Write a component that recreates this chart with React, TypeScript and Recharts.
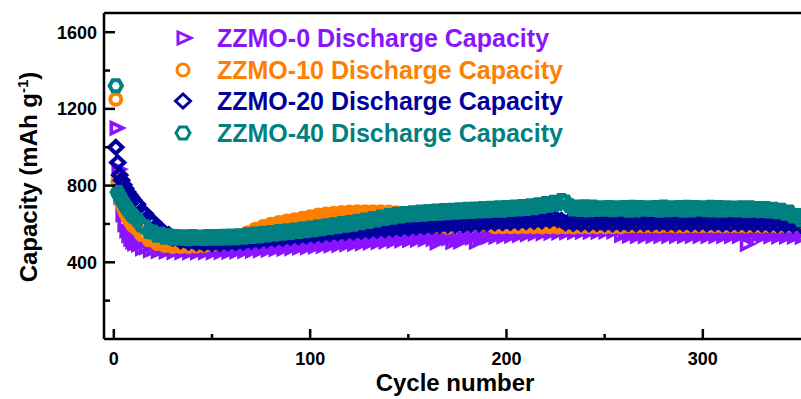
import React from "react";
import {
  ScatterChart,
  Scatter,
  XAxis,
  YAxis,
  ReferenceLine,
  Legend,
} from "recharts";

const FONT = "'Liberation Sans', Arial, sans-serif";

// cycle numbers (every cycle for the first ten, then every second cycle)
const cycles = [
  1, 2, 3, 4, 5, 6, 7, 8, 9, 10,
  12, 14, 16, 18, 20, 22, 24, 26, 28, 30,
  32, 34, 36, 38, 40, 42, 44, 46, 48, 50,
  52, 54, 56, 58, 60, 62, 64, 66, 68, 70,
  72, 74, 76, 78, 80, 82, 84, 86, 88, 90,
  92, 94, 96, 98, 100, 102, 104, 106, 108, 110,
  112, 114, 116, 118, 120, 122, 124, 126, 128, 130,
  132, 134, 136, 138, 140, 142, 144, 146, 148, 150,
  152, 154, 156, 158, 160, 162, 164, 166, 168, 170,
  172, 174, 176, 178, 180, 182, 184, 186, 188, 190,
  192, 194, 196, 198, 200, 202, 204, 206, 208, 210,
  212, 214, 216, 218, 220, 222, 224, 226, 228, 230,
  232, 234, 236, 238, 240, 242, 244, 246, 248, 250,
  252, 254, 256, 258, 260, 262, 264, 266, 268, 270,
  272, 274, 276, 278, 280, 282, 284, 286, 288, 290,
  292, 294, 296, 298, 300, 302, 304, 306, 308, 310,
  312, 314, 316, 318, 320, 322, 324, 326, 328, 330,
  332, 334, 336, 338, 340, 342, 344, 346, 348, 350,
];

const zzmo0 = [
  1100, 885, 740, 650, 598, 565, 540, 522, 508, 497,
  492, 472, 478, 462, 471, 458, 468, 455, 467, 453,
  466, 452, 465, 451, 465, 451, 465, 452, 466, 452,
  467, 453, 468, 454, 469, 456, 471, 458, 473, 460,
  475, 462, 478, 465, 480, 468, 483, 470, 486, 473,
  488, 476, 491, 478, 494, 481, 497, 484, 500, 487,
  503, 490, 506, 493, 509, 496, 512, 499, 515, 503,
  518, 505, 521, 508, 523, 511, 526, 513, 528, 515,
  530, 517, 532, 519, 534, 521, 503, 522, 537, 524,
  505, 525, 508, 526, 541, 528, 506, 529, 544, 531,
  546, 533, 548, 535, 550, 538, 554, 542, 558, 546,
  562, 550, 565, 551, 567, 553, 569, 555, 570, 556,
  571, 557, 572, 558, 573, 559, 573, 559, 574, 560,
  574, 560, 574, 541, 553, 538, 552, 537, 552, 537,
  552, 537, 550, 537, 552, 537, 550, 537, 552, 536,
  550, 537, 552, 537, 550, 537, 552, 536, 550, 537,
  550, 537, 550, 537, 552, 495, 551, 536, 549, 536,
  549, 535, 549, 534, 549, 534, 547, 534, 547, 533,
];

const zzmo10 = [
  1250, 820, 755, 712, 680, 655, 635, 618, 603, 590,
  573, 545, 540, 517, 517, 498, 502, 488, 495, 483,
  492, 482, 492, 483, 494, 485, 497, 487, 501, 493,
  506, 500, 514, 509, 524, 520, 537, 535, 554, 553,
  572, 570, 587, 583, 599, 594, 608, 602, 615, 608,
  622, 616, 630, 624, 638, 632, 646, 639, 652, 646,
  656, 650, 660, 652, 662, 654, 663, 655, 664, 654,
  664, 654, 663, 653, 662, 650, 659, 646, 652, 637,
  639, 621, 624, 608, 614, 598, 609, 590, 594, 583,
  603, 598, 611, 601, 610, 600, 609, 600, 608, 599,
  598, 585, 596, 585, 597, 586, 595, 586, 595, 586,
  595, 586, 595, 584, 595, 586, 595, 584, 595, 586,
  595, 584, 596, 585, 594, 586, 596, 585, 594, 586,
  596, 585, 597, 586, 598, 589, 598, 590, 599, 590,
  599, 590, 601, 589, 600, 591, 600, 589, 601, 590,
  600, 591, 599, 590, 601, 590, 599, 591, 600, 589,
  600, 591, 599, 590, 601, 589, 600, 591, 600, 589,
  600, 591, 600, 589, 601, 592, 603, 592, 603, 593,
];

const zzmo20 = [
  1000, 920, 855, 828, 805, 785, 767, 752, 738, 725,
  703, 667, 653, 620, 610, 580, 572, 547, 545, 525,
  528, 511, 518, 504, 513, 500, 510, 498, 509, 497,
  510, 498, 511, 500, 513, 502, 516, 504, 519, 509,
  523, 512, 527, 516, 531, 521, 535, 524, 539, 529,
  543, 533, 547, 537, 551, 541, 555, 545, 559, 549,
  563, 552, 566, 555, 569, 558, 572, 561, 575, 564,
  578, 567, 581, 570, 584, 573, 587, 576, 590, 579,
  593, 582, 596, 585, 599, 588, 601, 591, 604, 593,
  606, 594, 608, 596, 610, 598, 612, 600, 614, 602,
  616, 604, 618, 606, 619, 607, 621, 609, 623, 611,
  625, 613, 627, 615, 629, 619, 632, 621, 620, 604,
  616, 602, 615, 601, 616, 600, 615, 602, 613, 601,
  614, 600, 615, 602, 613, 601, 615, 600, 616, 601,
  613, 601, 614, 603, 613, 601, 614, 600, 615, 602,
  614, 600, 615, 601, 616, 600, 613, 602, 612, 600,
  613, 599, 614, 601, 612, 600, 612, 598, 613, 598,
  611, 597, 612, 596, 610, 596, 609, 594, 607, 592,
];

const zzmo40 = [
  1320, 765, 745, 725, 708, 692, 678, 664, 651, 640,
  622, 594, 586, 561, 558, 541, 546, 531, 538, 526,
  535, 525, 533, 523, 534, 525, 532, 524, 535, 526,
  535, 525, 536, 527, 537, 528, 539, 530, 543, 534,
  547, 537, 552, 542, 556, 547, 561, 551, 565, 555,
  569, 560, 574, 565, 579, 570, 585, 575, 590, 581,
  596, 587, 602, 593, 608, 599, 614, 606, 621, 613,
  629, 620, 636, 628, 644, 635, 650, 641, 655, 646,
  659, 648, 662, 651, 665, 654, 667, 656, 670, 659,
  672, 661, 674, 663, 676, 665, 678, 667, 680, 669,
  682, 671, 684, 672, 686, 675, 688, 678, 691, 681,
  695, 685, 700, 691, 706, 697, 713, 705, 722, 714,
  695, 678, 688, 675, 689, 674, 688, 675, 685, 676,
  686, 674, 685, 676, 686, 672, 687, 673, 686, 676,
  685, 675, 686, 672, 688, 674, 685, 675, 686, 672,
  687, 673, 686, 676, 684, 674, 687, 673, 686, 672,
  685, 674, 683, 673, 684, 670, 684, 671, 681, 670,
  680, 667, 677, 663, 672, 656, 662, 642, 644, 622,
];

const xTicks = [0, 50, 100, 150, 200, 250, 300];
const yTicks = [200, 400, 600, 800, 1000, 1200, 1400, 1600];

// legend markers use a thinner outline; plot markers a thicker one so the dense bands close up
type MarkProps = { cx?: number; cy?: number; color: string; legend?: boolean };

function TriangleMark({ cx = 0, cy = 0, color, legend }: MarkProps) {
  const a = legend ? 5 : 4.5;
  const b = legend ? 8 : 7;
  const h = legend ? 6 : 5.5;
  return (
    <polygon
      points={`${cx - a},${cy - h} ${cx + b},${cy} ${cx - a},${cy + h}`}
      fill="none"
      stroke={color}
      strokeWidth={legend ? 3 : 3.6}
    />
  );
}

function CircleMark({ cx = 0, cy = 0, color, legend }: MarkProps) {
  return (
    <circle cx={cx} cy={cy} r={legend ? 6 : 5.5} fill="none" stroke={color} strokeWidth={legend ? 3 : 4} />
  );
}

function DiamondMark({ cx = 0, cy = 0, color, legend }: MarkProps) {
  const w = legend ? 7.5 : 6.6;
  const h = legend ? 7 : 6.2;
  return (
    <polygon
      points={`${cx},${cy - h} ${cx + w},${cy} ${cx},${cy + h} ${cx - w},${cy}`}
      fill="none"
      stroke={color}
      strokeWidth={legend ? 3 : 4}
    />
  );
}

function HexagonMark({ cx = 0, cy = 0, color, legend }: MarkProps) {
  const w = legend ? 7 : 6.2;
  const h = legend ? 6 : 5.5;
  return (
    <polygon
      points={`${cx - w},${cy} ${cx - w / 2},${cy - h} ${cx + w / 2},${cy - h} ${cx + w},${cy} ${cx + w / 2},${cy + h} ${cx - w / 2},${cy + h}`}
      fill="none"
      stroke={color}
      strokeWidth={legend ? 3 : 4}
    />
  );
}

const series = [
  { name: "ZZMO-0 Discharge Capacity", color: "#8a14ff", Mark: TriangleMark, values: zzmo0 },
  { name: "ZZMO-10 Discharge Capacity", color: "#ff8000", Mark: CircleMark, values: zzmo10 },
  { name: "ZZMO-20 Discharge Capacity", color: "#00009c", Mark: DiamondMark, values: zzmo20 },
  { name: "ZZMO-40 Discharge Capacity", color: "#008080", Mark: HexagonMark, values: zzmo40 },
];

const toPoints = (values: number[]) => cycles.map((c, i) => ({ x: c, y: values[i] }));

function XTick({ x, y, payload }: any) {
  const major = payload.value % 100 === 0;
  return (
    <g>
      <line x1={x} x2={x} y1={y} y2={y - (major ? 10 : 5)} stroke="#000" strokeWidth={2.5} />
      {major && (
        <text x={x} y={y + 26} textAnchor="middle" fontSize={18} fontWeight="bold" fontFamily={FONT} fill="#000">
          {payload.value}
        </text>
      )}
    </g>
  );
}

function YTick({ x, y, payload }: any) {
  const major = payload.value % 400 === 0;
  return (
    <g>
      <line x1={x} x2={x + (major ? 11 : 6)} y1={y} y2={y} stroke="#000" strokeWidth={2.5} />
      {major && (
        <text x={x - 7} y={y + 6.5} textAnchor="end" fontSize={18} fontWeight="bold" fontFamily={FONT} fill="#000">
          {payload.value}
        </text>
      )}
    </g>
  );
}

function XTitle() {
  return (
    <text x={455} y={391} textAnchor="middle" fontSize={24} fontWeight="bold" fontFamily={FONT} fill="#000">
      Cycle number
    </text>
  );
}

function YTitle() {
  return (
    <text
      x={37}
      y={177}
      transform="rotate(-90 37 177)"
      textAnchor="middle"
      fontSize={24}
      fontWeight="bold"
      fontFamily={FONT}
      fill="#000"
    >
      Capacity (mAh g
      <tspan dy={-9} fontSize={15}>-1</tspan>
      <tspan dy={9}>)</tspan>
    </text>
  );
}

function LegendBox() {
  return (
    <div style={{ position: "relative", width: 801, height: 0 }}>
      {series.map((s, i) => {
        const Mark = s.Mark;
        return (
          <div
            key={s.name}
            style={{
              position: "absolute",
              left: 0,
              top: 38 + i * 31.7 - 16,
              height: 32,
              width: 801,
            }}
          >
            <svg width={24} height={24} style={{ position: "absolute", left: 171, top: 4 }}>
              <Mark cx={12} cy={12} color={s.color} legend />
            </svg>
            <span
              style={{
                position: "absolute",
                left: 217,
                top: 0,
                lineHeight: "32px",
                fontSize: 25,
                fontWeight: "bold",
                fontFamily: FONT,
                color: s.color,
                whiteSpace: "nowrap",
              }}
            >
              {s.name}
            </span>
          </div>
        );
      })}
    </div>
  );
}

export default function App() {
  return (
    <div style={{ position: "absolute", left: 0, top: 0, background: "#fff" }}>
      <ScatterChart width={801} height={399} margin={{ top: 13, right: 0, bottom: 0, left: 0 }}>
        <XAxis
          type="number"
          dataKey="x"
          domain={[-5, 350]}
          ticks={xTicks}
          interval={0}
          allowDataOverflow
          height={60}
          tickSize={0}
          tickMargin={0}
          tickLine={false}
          axisLine={{ stroke: "#000", strokeWidth: 2.5 }}
          tick={<XTick />}
          label={<XTitle />}
        />
        <YAxis
          type="number"
          dataKey="y"
          domain={[0, 1700]}
          ticks={yTicks}
          interval={0}
          allowDataOverflow
          width={104}
          tickSize={0}
          tickMargin={0}
          tickLine={false}
          axisLine={{ stroke: "#000", strokeWidth: 2.5 }}
          tick={<YTick />}
          label={<YTitle />}
        />
        <ReferenceLine y={1700} stroke="#000" strokeWidth={2.5} />
        <Legend
          layout="vertical"
          align="center"
          verticalAlign="middle"
          wrapperStyle={{ left: 0, top: 0, width: 801 }}
          content={() => <LegendBox />}
        />
        {series.map((s) => {
          const Mark = s.Mark;
          return (
            <Scatter
              key={s.name}
              name={s.name}
              data={toPoints(s.values)}
              isAnimationActive={false}
              shape={(p: any) => <Mark cx={p.cx} cy={p.cy} color={s.color} />}
            />
          );
        })}
      </ScatterChart>
    </div>
  );
}
